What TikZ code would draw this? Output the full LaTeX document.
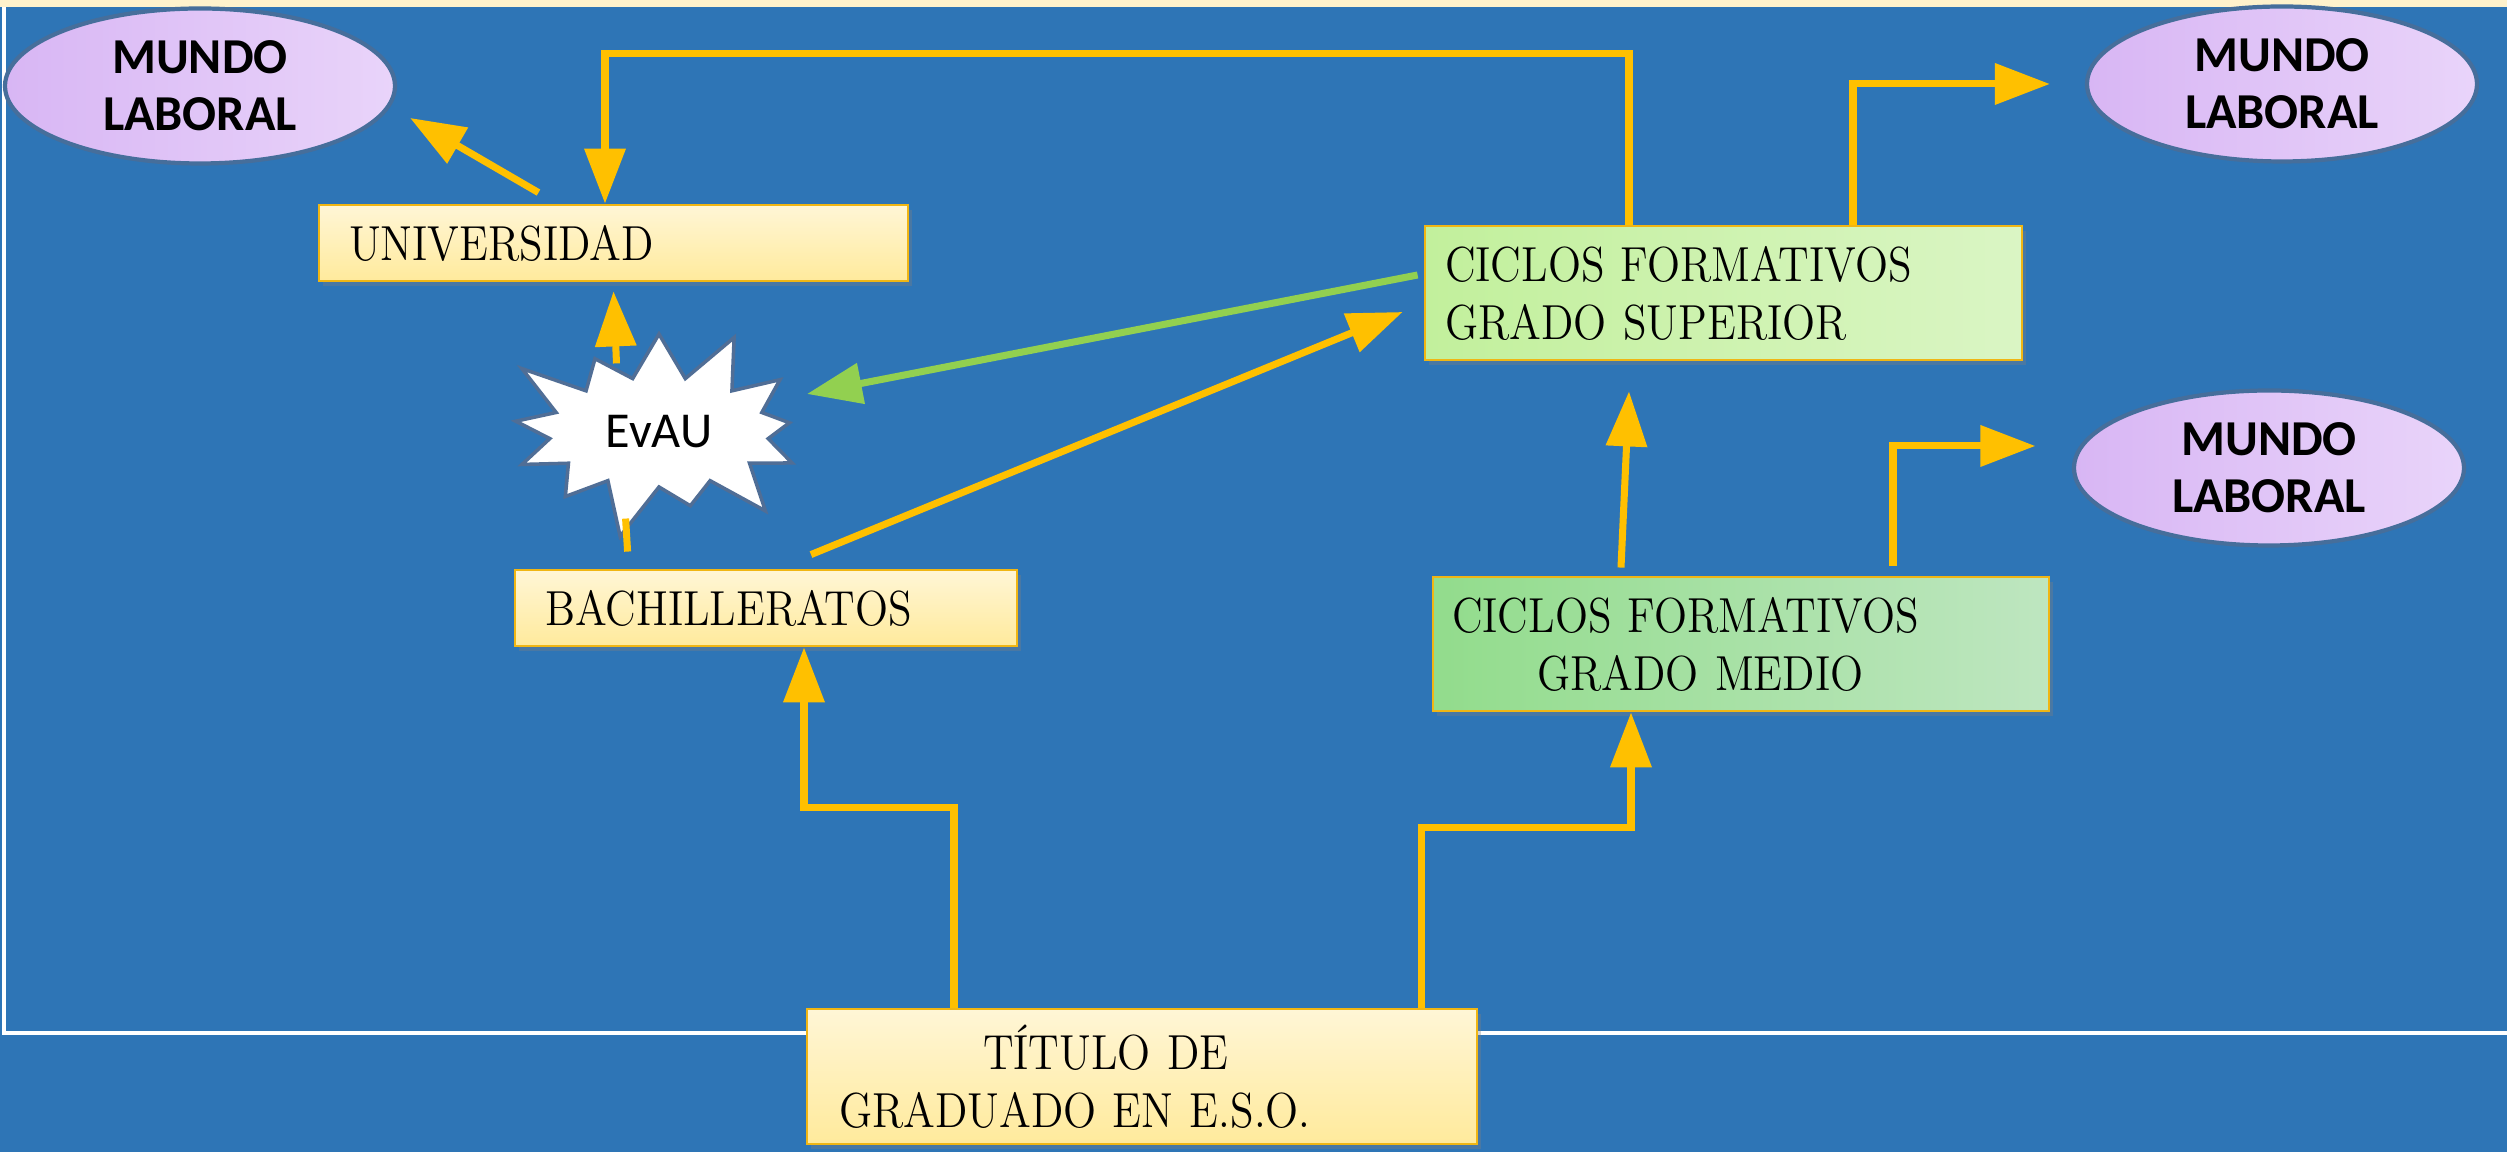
\documentclass[tikz,border=0pt]{standalone}
\usepackage{fontspec}
\setsansfont{Carlito}
\newfontfamily\boxfam[FakeStretch=0.88]{lmroman12-regular.otf}
\usepackage{tikz}
\usetikzlibrary{arrows.meta,shapes,positioning,shadows,calc}
\usepackage{xcolor}
\definecolor{bgblue}{RGB}{46,117,182}
\definecolor{topcream}{RGB}{255,242,204}
\definecolor{arrowgold}{RGB}{255,192,0}
\definecolor{arrowgreen}{RGB}{146,208,80}
\definecolor{boxgold}{RGB}{240,182,20}
\definecolor{yeltop}{RGB}{255,246,214}
\definecolor{yelbot}{RGB}{255,234,156}
\definecolor{supleft}{RGB}{194,240,156}
\definecolor{supright}{RGB}{218,245,196}
\definecolor{medleft}{RGB}{146,220,140}
\definecolor{medright}{RGB}{190,230,192}
\definecolor{lavleft}{RGB}{216,182,244}
\definecolor{lavright}{RGB}{233,212,250}
\definecolor{lavborder}{RGB}{70,110,155}
\definecolor{burstborder}{RGB}{80,110,150}
\newcommand{\boxfont}{\boxfam\fontsize{14}{16.5}\selectfont}
\newcommand{\mundofont}{\sffamily\bfseries\fontsize{14.3}{16.3}\selectfont}
\tikzstyle{arrow} = [line width=2pt,-{Triangle[length=0.55cm,width=0.4cm]},color=arrowgold]
\tikzstyle{cfbox} = [rectangle, draw=boxgold, line width=0.8pt, align=left, font=\boxfont, drop shadow={shadow xshift=0.04cm, shadow yshift=-0.05cm, opacity=0.35}]
\tikzstyle{yelbox} = [cfbox, top color=yeltop, bottom color=yelbot]
\tikzstyle{mundo} = [ellipse, draw=lavborder, line width=1.2pt, left color=lavleft, right color=lavright, minimum width=3.9cm, minimum height=1.55cm, inner sep=0pt, align=center, font=\mundofont]

\begin{document}
\begin{tikzpicture}
    \useasboundingbox (0,0) rectangle (25.07,11.52);
    % Background
    \fill[bgblue] (0,0) rectangle (25.07,11.52);
    \fill[topcream] (0,11.45) rectangle (25.07,11.52);
    \draw[white, line width=1.4pt] (0.04,11.45) |- (25.07,1.19);

    % Mundo laboral
    \node[mundo] (mundoa) at (2.00,10.66) {MUNDO\\LABORAL};
    \node[mundo] (mundob) at (22.82,10.68) {MUNDO\\LABORAL};
    \node[mundo] (mundoc) at (22.69,6.84) {MUNDO\\LABORAL};

    % Boxes
    \node[yelbox, minimum height=0.76cm, text width=5.29cm, inner xsep=0.3cm] (univ) at (6.135,9.09) {UNIVERSIDAD};
    \node[yelbox, minimum height=0.76cm, text width=4.42cm, inner xsep=0.3cm] (bach) at (7.66,5.44) {BACHILLERATOS};
    \node[cfbox, left color=supleft, right color=supright, minimum height=1.34cm, text width=5.57cm, inner xsep=0.2cm] (gsup) at (17.235,8.59) {CICLOS FORMATIVOS\\GRADO SUPERIOR};
    \node[cfbox, left color=medleft, right color=medright, minimum height=1.34cm, text width=5.78cm, inner xsep=0.19cm] (gmed) at (17.41,5.08) {CICLOS FORMATIVOS\\\hspace*{0.85cm}GRADO MEDIO};
    \node[yelbox, minimum height=1.35cm, text width=6.06cm, inner xsep=0.32cm] (titulo) at (11.42,0.755) {\hspace*{1.44cm}TÍTULO DE\\GRADUADO EN E.S.O.};

    % EvAU
    \node[starburst, draw=burstborder, fill=white, line width=1pt, starburst points=13, starburst point height=0.6cm, minimum width=3.4cm, minimum height=2.3cm, font=\sffamily\fontsize{14.3}{16}\selectfont] (evau) at (6.59,7.2) {EvAU};

    % Arrows
    \draw[arrow] ([xshift=-0.75cm,yshift=0.11cm]univ.north) -- ([xshift=0.13cm,yshift=-0.32cm]mundoa.east);
    \draw[arrow] ([xshift=-0.945cm]gsup.north) |- ($(univ.north)+(-0.085,1.5)$) -- ([xshift=-0.085cm]univ.north);
    \draw[arrow] ($(univ.south)+(0.03,-0.81)$) -- ($(univ.south)+(0,-0.09)$);
    \draw[arrowgold, line width=2pt] ($(bach.north west)+(1.14,0.17)$) -- ($(bach.north west)+(1.12,0.50)$);
    \draw[arrow] ($(bach.north)+(0.45,0.14)$) -- ($(gsup.west)+(-0.21,-0.19)$);
    \draw[arrow, color=arrowgreen] ($(gsup.west)+(-0.06,0.18)$) -- ($(evau)+(1.48,0.38)$);
    \draw[arrow] ([xshift=1.295cm]gsup.north) |- ([xshift=-0.35cm]mundob.west);
    \draw[arrow] ($(gmed.north)+(-1.2,0.08)$) -- ($(gsup.south)+(-0.945,-0.30)$);
    \draw[arrow] ($(gmed.north)+(1.52,0.10)$) |- ($(mundoc.west)+(-0.365,0.22)$);
    \draw[arrow] ([xshift=-1.88cm]titulo.north) -- ++(0,2.0) -| ([xshift=0.38cm]bach.south);
    \draw[arrow] ([xshift=-0.57cm]titulo.north east) -- ++(0,1.8) -| ([xshift=-1.1cm]gmed.south);
\end{tikzpicture}
\end{document}
